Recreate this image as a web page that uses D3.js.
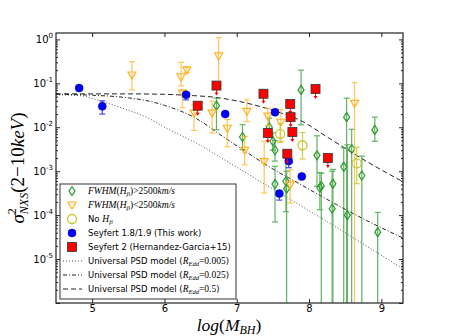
<!DOCTYPE html>
<html>
<head>
<meta charset="utf-8">
<script src="https://cdn.jsdelivr.net/npm/d3@7"></script>
<style>
  body { margin: 0; background: #fff; }
  svg { display: block; }
</style>
</head>
<body>
<div id="chart"></div>
<script>
// each point: [log M_BH, sigma2_NXS, lower end of bar, upper end of bar]
var fwhmHigh = [
  [6.72, 0.031, 0.0088, 0.046],
  [7.08, 0.0060, 0.0031, 0.0114],
  [7.45, 0.0100, 0.0060, 0.016],
  [7.50, 0.0048, 0.0030, 0.0075],
  [7.53, 0.0030, 0.0017, 0.0050],
  [7.53, 5.1e-4, 7e-5, 1.3e-3],
  [7.68, 5.9e-4, 1.2e-4, 2.2e-3],
  [7.69, 4.0e-4, 1e-7, 1.0e-3],
  [7.89, 0.071, 0.0114, 0.20],
  [8.11, 2.3e-3, 4.5e-4, 6.4e-3],
  [8.15, 4.2e-4, 1.33e-4, 9.3e-4],
  [8.17, 4.6e-4, 1e-7, 9.0e-4],
  [8.32, 1.4e-4, 1e-7, 1.0e-3],
  [8.33, 5.2e-4, 1e-7, 1.1e-3],
  [8.48, 1.26e-3, 1e-7, 3.4e-3],
  [8.52, 0.017, 1e-7, 0.046],
  [8.53, 1.0e-4, 1e-7, 4.0e-3],
  [8.59, 3.2e-3, 1e-7, 9.0e-3],
  [8.73, 8.0e-4, 1e-7, 2.2e-3],
  [8.91, 8.7e-3, 4.8e-3, 0.017],
  [8.95, 4.1e-5, 1e-7, 1.15e-4]
];
var fwhmLow = [
  [5.55, 0.155, 0.071, 0.31],
  [6.23, 0.14, 0.088, 0.30],
  [6.31, 0.20, 0.176, 0.24],
  [6.25, 0.060, 0.028, 0.071],
  [6.75, 0.42, 0.093, 1.1],
  [6.41, 0.021, 0.0085, 0.032],
  [6.66, 0.021, 0.0074, 0.039],
  [6.87, 0.0095, 0.0036, 0.015],
  [7.14, 0.023, 0.0135, 0.042],
  [7.11, 0.0030, 0.0014, 0.0062],
  [7.38, 0.00166, 0.00032, 0.0048],
  [7.43, 0.018, 0.0110, 0.027],
  [7.61, 0.013, 0.0048, 0.025],
  [7.74, 4.9e-4, 1.9e-4, 1.07e-3],
  [8.63, 0.035, 1e-7, 0.104]
];
var noHb = [
  [7.60, 0.0071, 0.0045, 0.012],
  [7.91, 0.0039, 0.0019, 0.0076],
  [8.66, 0.0015, 0.00052, 0.0035]
];
var sy18 = [
  [4.82, 0.078, 0.078, 0.078],
  [5.14, 0.030, 0.020, 0.040],
  [6.30, 0.055, 0.042, 0.055],
  [6.84, 0.020, 0.020, 0.020],
  [7.53, 0.022, 0.022, 0.022],
  [7.59, 3.1e-4, 2.2e-4, 3.1e-4],
  [7.72, 1.7e-3, 1.2e-3, 1.7e-3],
  [7.90, 7.6e-4, 7.6e-4, 7.6e-4]
];
// Seyfert 2: [log M_BH, sigma2 upper limit]
var sy2 = [
  [6.46, 0.031], [6.72, 0.089], [7.37, 0.058], [7.43, 0.0074],
  [7.74, 0.034], [7.745, 0.017], [7.77, 0.0078], [7.70, 0.0025],
  [8.09, 0.074], [8.26, 0.0020]
];
// model curves: [log M_BH, log10 sigma2]
var psd005 = [[4.5,-1.26],[4.83,-1.28],[5.11,-1.40],[5.48,-1.60],[5.80,-1.81],[5.98,-1.98],
  [6.44,-2.36],[6.90,-2.81],[7.35,-3.26],[7.59,-3.49],[7.91,-3.81],[8.37,-4.27],[8.83,-4.74],[9.3,-5.22]];
var psd025 = [[4.5,-1.25],[5.0,-1.27],[5.5,-1.33],[5.8,-1.41],[6.0,-1.50],[6.44,-1.80],[6.8,-2.20],
  [7.13,-2.56],[7.45,-2.90],[7.86,-3.28],[8.38,-3.76],[8.83,-4.15],[9.3,-4.52]];
var psd05 = [[4.5,-1.24],[5.5,-1.24],[6.0,-1.25],[6.4,-1.28],[6.66,-1.31],[7.0,-1.40],[7.35,-1.54],
  [7.55,-1.64],[7.9,-1.86],[8.25,-2.22],[8.82,-2.80],[9.3,-3.24]];
var xTicks = [5, 6, 7, 8, 9];
var yDecades = [0, -1, -2, -3, -4, -5];

var width = 449, height = 336;
var green = "#2a9a2a", orange = "#ffb21f", yellow = "#c8c832";

var svg = d3.select("#chart").append("svg")
  .attr("width", width).attr("height", height);

var x = d3.scaleLinear().domain([4.5, 9.3]).range([56, 403]);
var y = d3.scaleLog().domain([1e-6, 1.4]).range([303, 33]);

svg.append("clipPath").attr("id", "clip")
  .append("rect").attr("x", 56).attr("y", 33).attr("width", 347).attr("height", 270);

var plot = svg.append("g").attr("clip-path", "url(#clip)");

// model lines
var line = d3.line()
  .x(d => x(d[0]))
  .y(d => y(Math.pow(10, d[1])))
  .curve(d3.curveMonotoneX);

var models = [
  {data: psd005, dash: "1,2", color: "#555"},
  {data: psd025, dash: "4,2,1,2", color: "#222"},
  {data: psd05, dash: "5,3", color: "#222"}
];
models.forEach(function (m) {
  plot.append("path").attr("d", line(m.data))
    .attr("fill", "none").attr("stroke", m.color)
    .attr("stroke-width", 1).attr("stroke-dasharray", m.dash);
});

function errorBars(data, color, op) {
  var g = plot.append("g").attr("stroke", color).attr("stroke-width", 1.2).attr("opacity", op);
  data.forEach(function (d) {
    if (d[2] == d[3]) return;
    var cx = x(d[0]);
    g.append("line").attr("x1", cx).attr("x2", cx).attr("y1", y(d[2])).attr("y2", y(d[3]));
    [d[2], d[3]].forEach(function (v) {
      if (v == d[1] || v < 1e-6) return;
      g.append("line").attr("x1", cx - 3).attr("x2", cx + 3).attr("y1", y(v)).attr("y2", y(v));
    });
  });
}

var diamond = "M0,-4.5L3,0L0,4.5L-3,0Z";
var triDown = "M-4,-3L4,-3L0,4Z";

errorBars(fwhmHigh, green, 0.75);
plot.append("g").selectAll("path").data(fwhmHigh).enter().append("path")
  .attr("d", diamond)
  .attr("transform", d => `translate(${x(d[0])},${y(d[1])})`)
  .attr("fill", "none").attr("stroke", green).attr("stroke-width", 1.2);

errorBars(fwhmLow, orange, 0.75);
plot.append("g").selectAll("path").data(fwhmLow).enter().append("path")
  .attr("d", triDown)
  .attr("transform", d => `translate(${x(d[0])},${y(d[1])})`)
  .attr("fill", "none").attr("stroke", orange).attr("stroke-width", 1.2);

errorBars(noHb, yellow, 0.85);
plot.append("g").selectAll("circle").data(noHb).enter().append("circle")
  .attr("cx", d => x(d[0])).attr("cy", d => y(d[1])).attr("r", 4.5)
  .attr("fill", "none").attr("stroke", yellow).attr("stroke-width", 1.3);

errorBars(sy18, "#3333ff", 0.9);
plot.append("g").selectAll("circle").data(sy18).enter().append("circle")
  .attr("cx", d => x(d[0])).attr("cy", d => y(d[1])).attr("r", 4)
  .attr("fill", "#0000ff").attr("stroke", "#000080").attr("stroke-width", 0.5);

// Seyfert 2 upper limits
var arrows = plot.append("g").attr("stroke", "#ff0000").attr("fill", "#ff0000");
sy2.forEach(function (d) {
  var cx = x(d[0]), cy = y(d[1]);
  arrows.append("line").attr("x1", cx).attr("x2", cx).attr("y1", cy + 4).attr("y2", cy + 9).attr("stroke-width", 1);
  arrows.append("path").attr("d", `M${cx - 2},${cy + 7}L${cx + 2},${cy + 7}L${cx},${cy + 10}Z`).attr("stroke", "none");
});
plot.append("g").selectAll("rect").data(sy2).enter().append("rect")
  .attr("x", d => x(d[0]) - 4.5).attr("y", d => y(d[1]) - 4.5)
  .attr("width", 9).attr("height", 9)
  .attr("fill", "#ff0000").attr("stroke", "#333").attr("stroke-width", 0.8);

// axes
var minor = y.ticks().filter(v => Math.abs(Math.log10(v) - Math.round(Math.log10(v))) > 1e-6);
var major = d3.range(-6, 1).map(e => Math.pow(10, e));

svg.append("g").attr("transform", "translate(0,303)")
  .call(d3.axisBottom(x).tickValues(xTicks).tickSize(-4).tickPadding(2).tickFormat(d3.format("d")));
svg.append("g").attr("transform", "translate(0,33)")
  .call(d3.axisTop(x).tickValues(xTicks).tickSize(-4).tickFormat(""));
svg.append("g").attr("transform", "translate(56,0)")
  .call(d3.axisLeft(y).tickValues(major).tickSize(-4).tickFormat(""));
svg.append("g").attr("transform", "translate(56,0)")
  .call(d3.axisLeft(y).tickValues(minor).tickSize(-2).tickFormat(""));
svg.append("g").attr("transform", "translate(403,0)")
  .call(d3.axisRight(y).tickValues(major).tickSize(-4).tickFormat(""));
svg.append("g").attr("transform", "translate(403,0)")
  .call(d3.axisRight(y).tickValues(minor).tickSize(-2).tickFormat(""));

svg.selectAll(".domain").remove();
svg.selectAll(".tick line").attr("stroke", "#222");
svg.selectAll(".tick text").attr("font-family", "DejaVu Sans").attr("font-size", 10).attr("fill", "#000");

svg.append("rect").attr("x", 56).attr("y", 33).attr("width", 347).attr("height", 270)
  .attr("fill", "none").attr("stroke", "#222").attr("stroke-width", 1.2);

var yl = svg.append("g").attr("font-family", "DejaVu Sans").attr("fill", "#000");
yDecades.forEach(function (e) {
  var t = yl.append("text").attr("x", 53).attr("y", y(Math.pow(10, e)) + 4)
    .attr("text-anchor", "end").attr("font-size", 10);
  t.append("tspan").text("10");
  t.append("tspan").attr("font-size", 7).attr("dy", -5).text(e == 0 ? "0" : "-" + (-e));
});

// axis labels
var ylab = svg.append("text")
  .attr("transform", "translate(24,168) rotate(-90)")
  .attr("text-anchor", "middle")
  .attr("font-family", "Liberation Serif").attr("font-size", 19).attr("fill", "#000");
ylab.append("tspan").attr("font-style", "italic").text("σ");
ylab.append("tspan").attr("font-size", 12).attr("dy", -8).text("2");
ylab.append("tspan").attr("font-size", 12).attr("font-style", "italic").attr("dx", -6).attr("dy", 12).text("NXS");
ylab.append("tspan").attr("dy", -4).text("(2−10");
ylab.append("tspan").attr("font-style", "italic").text("keV");
ylab.append("tspan").text(")");

var xlab = svg.append("text")
  .attr("x", 229).attr("y", 331).attr("text-anchor", "middle")
  .attr("font-family", "Liberation Serif").attr("font-size", 17.5).attr("fill", "#000");
xlab.append("tspan").attr("font-style", "italic").text("log");
xlab.append("tspan").text("(");
xlab.append("tspan").attr("font-style", "italic").text("M");
xlab.append("tspan").attr("font-style", "italic").attr("font-size", 12).attr("dy", 3).text("BH");
xlab.append("tspan").attr("dy", -3).text(")");

// legend
var lg = svg.append("g");
lg.append("rect").attr("x", 60).attr("y", 184).attr("width", 176).attr("height", 115)
  .attr("fill", "#fff").attr("stroke", "#333").attr("stroke-width", 1);

var rows = d3.range(8).map(i => 191 + i * 14);
var mx = 72, tx = 88;

lg.append("path").attr("d", diamond).attr("transform", `translate(${mx},${rows[0]})`)
  .attr("fill", "none").attr("stroke", green).attr("stroke-width", 1.2);
lg.append("path").attr("d", triDown).attr("transform", `translate(${mx},${rows[1]})`)
  .attr("fill", "none").attr("stroke", orange).attr("stroke-width", 1.2);
lg.append("circle").attr("cx", mx).attr("cy", rows[2]).attr("r", 4.5)
  .attr("fill", "none").attr("stroke", yellow).attr("stroke-width", 1.3);
lg.append("circle").attr("cx", mx).attr("cy", rows[3]).attr("r", 4)
  .attr("fill", "#0000ff").attr("stroke", "#000080").attr("stroke-width", 0.5);
lg.append("rect").attr("x", mx - 4.5).attr("y", rows[4] - 4.5).attr("width", 9).attr("height", 9)
  .attr("fill", "#ff0000").attr("stroke", "#333").attr("stroke-width", 0.8);
models.forEach(function (m, i) {
  lg.append("line").attr("x1", 63).attr("x2", 82).attr("y1", rows[5 + i]).attr("y2", rows[5 + i])
    .attr("stroke", m.color).attr("stroke-dasharray", m.dash);
});

function legendText(row) {
  return lg.append("text").attr("x", tx).attr("y", rows[row] + 3)
    .attr("font-family", "DejaVu Sans").attr("font-size", 8.5).attr("fill", "#000");
}
function mathPart(t, s, italic, size, dy) {
  var ts = t.append("tspan").attr("font-family", "Liberation Serif").attr("font-size", size || 9.5).text(s);
  if (italic) ts.attr("font-style", "italic");
  if (dy) ts.attr("dy", dy);
  return ts;
}

var fw = [">2500", "<2500"];
fw.forEach(function (s, i) {
  var t = legendText(i);
  mathPart(t, "FWHM", true);
  mathPart(t, "(");
  mathPart(t, "H", true);
  mathPart(t, "β", true, 7, 2);
  mathPart(t, ")" + s, false, 9.5, -2);
  mathPart(t, "km/s", true);
});
var t2 = legendText(2);
t2.append("tspan").text("No ");
mathPart(t2, "H", true);
mathPart(t2, "β", true, 7, 2);
legendText(3).text("Seyfert 1.8/1.9 (This work)");
legendText(4).text("Seyfert 2 (Hernandez-Garcia+15)");
["0.005", "0.025", "0.5"].forEach(function (r, i) {
  var t = legendText(5 + i);
  t.append("tspan").text("Universal PSD model (");
  mathPart(t, "R", true);
  mathPart(t, "Edd", true, 6.5, 2);
  mathPart(t, "=" + r, false, 9.5, -2);
  t.append("tspan").text(")");
});
</script>
</body>
</html>
